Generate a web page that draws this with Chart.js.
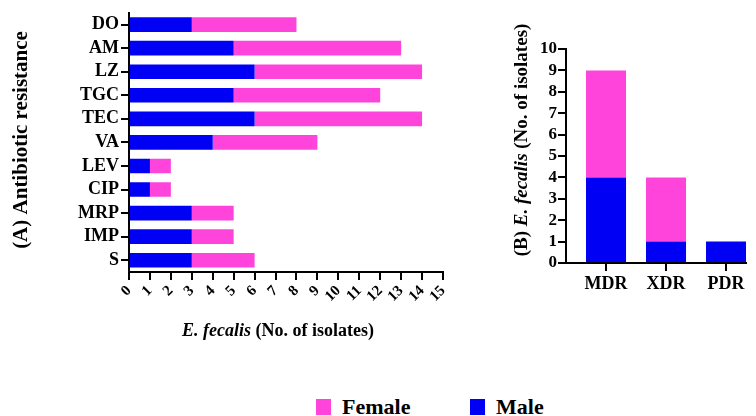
<!DOCTYPE html>
<html>
<head>
<meta charset="utf-8">
<title>E. fecalis resistance</title>
<script src="https://cdn.jsdelivr.net/npm/chart.js"></script>
<style>
    body {
        margin: 0;
        background: #fff;
        width: 756px;
        height: 416px;
        position: relative;
        overflow: hidden;
        font-family: "Liberation Serif", "DejaVu Serif", serif;
    }
    #wrapA { position: absolute; left: 0; top: 0; }
    #wrapB { position: absolute; left: 470px; top: 0; }
    .leg {
        position: absolute;
        top: 396px;
        display: flex;
        align-items: center;
        font-weight: bold;
        font-size: 22px;
        line-height: 1;
    }
    .leg span.box { display: inline-block; width: 15px; height: 16px; margin-right: 11px; }
</style>
</head>
<body>

<div id="wrapA"><canvas id="chartA" width="460" height="360"></canvas></div>
<div id="wrapB"><canvas id="chartB" width="286" height="360"></canvas></div>
<div id="legendBox"></div>

<script>
// data
var seriesNames = ['Female', 'Male'];
var seriesColors = ['#ff44dc', '#0000f5'];

var antibiotics = ['DO', 'AM', 'LZ', 'TGC', 'TEC', 'VA', 'LEV', 'CIP', 'MRP', 'IMP', 'S'];
var maleA   = [3, 5, 6, 5, 6, 4, 1, 1, 3, 3, 3];
var femaleA = [5, 8, 8, 7, 8, 5, 1, 1, 2, 2, 3];
var ticksA  = [0, 1, 2, 3, 4, 5, 6, 7, 8, 9, 10, 11, 12, 13, 14, 15];

var resistTypes = ['MDR', 'XDR', 'PDR'];
var maleB   = [4, 1, 1];
var femaleB = [5, 3, 0];

var serif = '"Liberation Serif", "DejaVu Serif", serif';

// draws a centered line of text made of parts with different fonts (for the italic genus name)
function drawRich(ctx, parts, x, y, angle) {
    ctx.save();
    ctx.translate(x, y);
    ctx.rotate(angle);
    var total = 0;
    parts.forEach(function (p) { ctx.font = p.font; total += ctx.measureText(p.text).width; });
    var cx = -total / 2;
    ctx.textBaseline = 'middle';
    ctx.textAlign = 'left';
    ctx.fillStyle = '#000';
    parts.forEach(function (p) {
        ctx.font = p.font;
        ctx.fillText(p.text, cx, 0);
        cx += ctx.measureText(p.text).width;
    });
    ctx.restore();
}

function titlePlugin(draws) {
    return {
        id: 'titles',
        afterDraw: function (chart) { draws(chart.ctx); }
    };
}

var axisLine = { color: '#000', width: 2 };
var tickGrid = { drawOnChartArea: false, drawTicks: true, tickLength: 8, color: '#000', lineWidth: 2, offset: false };

// (A) horizontal stacked bars
new Chart(document.getElementById('chartA').getContext('2d'), {
    type: 'bar',
    data: {
        labels: antibiotics,
        datasets: [
            { label: seriesNames[1], data: maleA, backgroundColor: seriesColors[1], barPercentage: 0.62, categoryPercentage: 1 },
            { label: seriesNames[0], data: femaleA, backgroundColor: seriesColors[0], barPercentage: 0.62, categoryPercentage: 1 }
        ]
    },
    options: {
        indexAxis: 'y',
        responsive: false,
        animation: false,
        devicePixelRatio: 1,
        layout: { padding: { top: 9, right: 17, left: 0, bottom: 0 } },
        plugins: { legend: { display: false }, tooltip: { enabled: false } },
        scales: {
            x: {
                stacked: true,
                min: 0,
                max: 15,
                afterBuildTicks: function (s) { s.ticks = ticksA.map(function (v) { return { value: v }; }); },
                afterFit: function (s) { s.height = 88; },
                ticks: {
                    autoSkip: false,
                    minRotation: 45,
                    maxRotation: 45,
                    padding: 2,
                    color: '#000',
                    font: { family: serif, size: 15, weight: 'bold' }
                },
                grid: tickGrid,
                border: axisLine
            },
            y: {
                stacked: true,
                offset: true,
                afterFit: function (s) { s.width = 129; },
                ticks: {
                    autoSkip: false,
                    padding: 2,
                    color: '#000',
                    font: { family: serif, size: 18, weight: 'bold' }
                },
                grid: tickGrid,
                border: axisLine
            }
        }
    },
    plugins: [titlePlugin(function (ctx) {
        drawRich(ctx, [{ text: '(A) Antibiotic resistance', font: 'bold 21px ' + serif }], 22, 140, -Math.PI / 2);
        drawRich(ctx, [
            { text: 'E. fecalis', font: 'italic bold 18px ' + serif },
            { text: ' (No. of isolates)', font: 'bold 18px ' + serif }
        ], 278, 331, 0);
    })]
});

// (B) vertical stacked bars
function toPoints(arr) {
    return arr.map(function (v, i) { return { x: i, y: v }; });
}

new Chart(document.getElementById('chartB').getContext('2d'), {
    type: 'bar',
    data: {
        datasets: [
            { label: seriesNames[1], data: toPoints(maleB), backgroundColor: seriesColors[1], barPercentage: 0.667, categoryPercentage: 1 },
            { label: seriesNames[0], data: toPoints(femaleB), backgroundColor: seriesColors[0], barPercentage: 0.667, categoryPercentage: 1 }
        ]
    },
    options: {
        responsive: false,
        animation: false,
        devicePixelRatio: 1,
        layout: { padding: { top: 49, right: 10, left: 0, bottom: 0 } },
        plugins: { legend: { display: false }, tooltip: { enabled: false } },
        scales: {
            x: {
                type: 'linear',
                stacked: true,
                offset: false,
                min: -0.667,
                max: 2.333,
                afterBuildTicks: function (s) { s.ticks = resistTypes.map(function (c, i) { return { value: i }; }); },
                afterFit: function (s) { s.height = 97; },
                ticks: {
                    autoSkip: false,
                    maxRotation: 0,
                    padding: 3,
                    color: '#000',
                    font: { family: serif, size: 18, weight: 'bold' },
                    callback: function (v) { return resistTypes[v]; }
                },
                grid: tickGrid,
                border: axisLine
            },
            y: {
                stacked: true,
                min: 0,
                max: 10,
                afterFit: function (s) { s.width = 96; },
                ticks: {
                    autoSkip: false,
                    stepSize: 1,
                    padding: 1,
                    color: '#000',
                    font: { family: serif, size: 17, weight: 'bold' }
                },
                grid: tickGrid,
                border: axisLine
            }
        }
    },
    plugins: [titlePlugin(function (ctx) {
        drawRich(ctx, [
            { text: '(B) ', font: 'bold 19px ' + serif },
            { text: 'E. fecalis', font: 'italic bold 19px ' + serif },
            { text: ' (No. of isolates)', font: 'bold 19px ' + serif }
        ], 52, 140, -Math.PI / 2);
    })]
});

// legend
var legendBox = document.getElementById('legendBox');
var legendLeft = [316, 470];
seriesNames.forEach(function (name, i) {
    var item = document.createElement('div');
    item.className = 'leg';
    item.style.left = legendLeft[i] + 'px';
    item.innerHTML = '<span class="box" style="background:' + seriesColors[i] + '"></span>' + name;
    legendBox.appendChild(item);
});
</script>

</body>
</html>
